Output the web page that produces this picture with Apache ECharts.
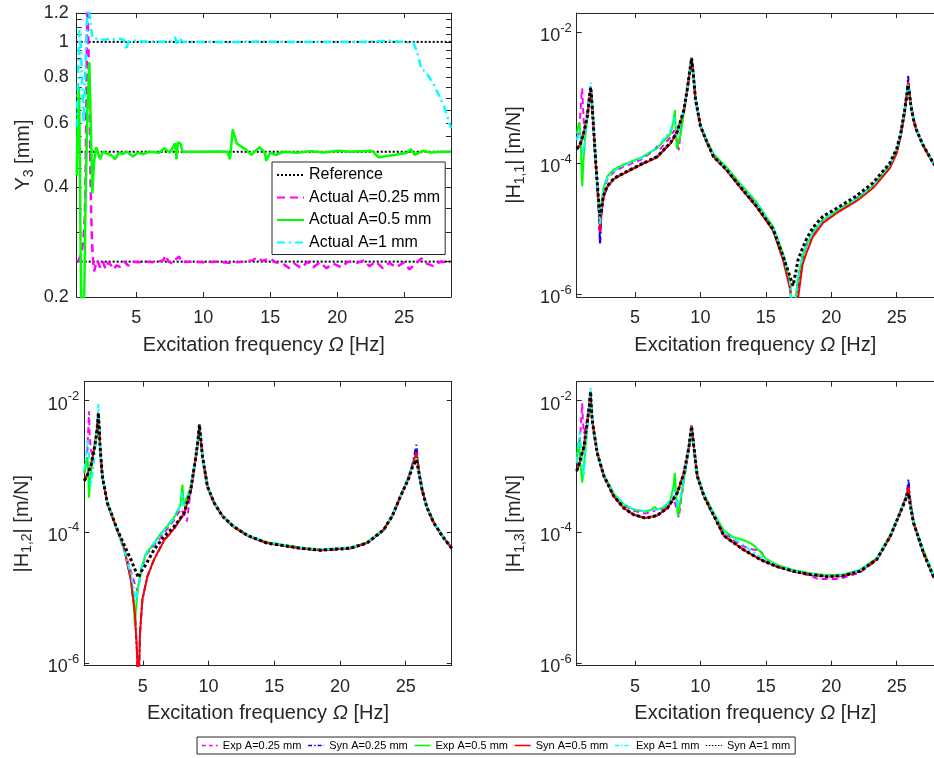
<!DOCTYPE html>
<html><head><meta charset="utf-8">
<script src="https://cdn.jsdelivr.net/npm/echarts@6/dist/echarts.min.js"></script>
<style>html,body{margin:0;padding:0;background:#fff}#c{width:934px;height:758px}</style>
</head><body><div id="c"></div>
<script>
// ---------------- data ----------------
const XMIN = 0.55, XMAX = 28.5, XMAX_RIGHT_PANELS = 27.85; // right-hand panels are cropped by the figure edge
const X_TICKS = [5, 10, 15, 20, 25];
const Y3_LABELS = [0.2, 0.4, 0.6, 0.8, 1, 1.2];
const Y3_TICKS = [0.2, 0.25, 0.3, 0.35, 0.4, 0.45, 0.5, 0.55, 0.6, 0.65, 0.7, 0.75, 0.8, 0.85, 0.9, 0.95, 1, 1.05, 1.1, 1.15, 1.2];
const H_MIN = 9.1e-7, H_MAX = 0.0195;
const H_TICKS = [1e-6, 1e-4, 1e-2];

const REF_LEVELS = [0.25, 0.5, 1];
// Y3 [mm] : [frequency Hz, amplitude mm]
const Y3_ACT_025 = [[0.55,0.25],[0.7,0.252],[0.82,0.26],[0.95,0.27],[1.05,0.285],[1.15,0.33],[1.22,0.45],[1.28,0.75],[1.34,1.3],[1.43,1.3],[1.5,0.75],[1.57,0.45],[1.63,0.34],[1.7,0.28],[1.78,0.25],[1.85,0.235],[1.95,0.243],[2.1,0.252],[2.3,0.241],[2.5,0.25],[2.7,0.239],[2.9,0.249],[3.1,0.245],[3.3,0.238],[3.5,0.244],[3.8,0.242],[4.1,0.25],[4.4,0.244],[4.7,0.25],[5.2,0.249],[5.8,0.25],[6.4,0.249],[7.0,0.252],[7.2,0.26],[7.4,0.25],[7.7,0.247],[8.0,0.255],[8.2,0.258],[8.4,0.249],[9.0,0.25],[10,0.249],[11,0.25],[12,0.248],[13,0.25],[13.7,0.252],[14.0,0.257],[14.4,0.251],[15.0,0.255],[15.4,0.249],[16.0,0.246],[16.4,0.24],[16.8,0.247],[17.3,0.24],[17.8,0.25],[18.2,0.241],[18.7,0.249],[19.2,0.24],[19.7,0.247],[20.3,0.241],[20.8,0.25],[21.5,0.248],[22.0,0.252],[22.4,0.243],[22.9,0.25],[23.4,0.24],[23.9,0.248],[24.4,0.241],[25.0,0.249],[25.4,0.238],[25.9,0.248],[26.3,0.255],[26.7,0.247],[27.2,0.243],[27.7,0.25],[28.2,0.249],[28.5,0.25]];
const Y3_ACT_05 = [[0.55,0.43],[0.62,0.62],[0.72,0.75],[0.78,0.5],[0.85,0.25],[0.9,0.18],[1.05,0.18],[1.12,0.21],[1.2,0.35],[1.35,0.65],[1.49,0.88],[1.6,0.6],[1.72,0.385],[1.85,0.47],[2.0,0.515],[2.1,0.51],[2.3,0.477],[2.5,0.5],[2.8,0.495],[3.1,0.49],[3.4,0.477],[3.7,0.497],[4.0,0.493],[4.3,0.5],[4.75,0.485],[5.1,0.497],[5.5,0.493],[6.0,0.5],[6.7,0.497],[7.1,0.511],[7.5,0.497],[7.9,0.527],[8.0,0.477],[8.1,0.53],[8.3,0.527],[8.45,0.5],[9,0.5],[10,0.5],[11,0.501],[11.8,0.5],[12.0,0.477],[12.2,0.576],[12.5,0.527],[13.2,0.506],[13.6,0.49],[14.2,0.515],[14.6,0.497],[14.7,0.472],[15.0,0.497],[15.4,0.49],[16,0.5],[17,0.497],[18,0.502],[19,0.498],[20.1,0.503],[21,0.5],[22.6,0.503],[23.1,0.483],[23.7,0.487],[24.3,0.49],[25.2,0.497],[25.5,0.508],[25.8,0.49],[26.4,0.503],[27,0.498],[27.8,0.5],[28.5,0.5]];
const Y3_ACT_1 = [[0.55,0.585],[0.65,0.8],[0.75,1.08],[0.87,0.95],[0.97,0.75],[1.07,0.6],[1.2,0.85],[1.3,1.1],[1.37,1.3],[1.5,1.3],[1.6,1.12],[1.69,1.04],[1.8,1.02],[2.2,1.022],[2.6,1.012],[3.0,1.02],[3.4,1.015],[3.8,1.02],[4.1,1.01],[4.25,0.95],[4.4,1.0],[4.6,1.01],[5.5,1.003],[6.5,1.0],[7.5,1.002],[7.9,1.03],[8.05,0.98],[8.2,1.025],[8.5,1.0],[10,1.0],[12,0.998],[14,1.002],[16,1.0],[18,1.0],[20,0.999],[22,1.0],[24,1.008],[24.5,1.003],[25.0,1.0],[25.7,0.995],[26.0,0.93],[26.3,0.84],[26.6,0.83],[27.3,0.754],[28.0,0.664],[28.5,0.58]];

// FRF magnitudes: [frequency Hz, log10 |H| in m/N]
const H11_EXP_025 = [[0.55,-3.62],[0.7,-3.55],[0.85,-3.2],[0.92,-2.95],[0.97,-2.86],[1.02,-3.1],[1.1,-3.4],[1.2,-3.45],[1.36,-3.2],[1.5,-3.0],[1.62,-2.83],[1.7,-3.0],[1.8,-3.3],[1.95,-3.85],[2.1,-4.3],[2.25,-4.85],[2.33,-5.24],[2.45,-4.7],[2.6,-4.42],[2.9,-4.24],[3.4,-4.13],[4.16,-4.05],[5.43,-3.95],[6.5,-3.8],[6.7,-3.74],[6.9,-3.79],[7.72,-3.6],[8.0,-3.5],[8.2,-3.65],[8.35,-3.8],[8.5,-3.5],[8.8,-3.15],[9.05,-2.82],[9.2,-2.57],[9.33,-2.4],[9.45,-2.62],[9.63,-3.02],[10.01,-3.43],[10.52,-3.68],[11.0,-3.89],[12.0,-4.09],[13.0,-4.33],[14.3,-4.63],[15.56,-4.99],[16.32,-5.41],[16.83,-5.82],[17.1,-6.5],[17.2,-6.3],[17.45,-5.8],[17.8,-5.43],[18.1,-5.27],[18.6,-5.07],[19.37,-4.88],[20.65,-4.71],[21.92,-4.56],[23.19,-4.36],[24.47,-4.05],[25.0,-3.82],[25.3,-3.58],[25.6,-3.22],[25.8,-2.9],[25.87,-2.74],[25.95,-2.88],[26.1,-3.12],[26.3,-3.33],[26.5,-3.48],[27.0,-3.72],[27.8,-4.0],[28.5,-4.15]];
const H11_SYN_025 = [[0.55,-3.79],[0.8,-3.73],[1.05,-3.58],[1.36,-3.3],[1.49,-3.07],[1.56,-2.94],[1.62,-2.84],[1.68,-2.98],[1.75,-3.2],[1.88,-3.6],[2.01,-4.02],[2.14,-4.38],[2.26,-4.75],[2.33,-5.24],[2.43,-4.8],[2.59,-4.52],[2.89,-4.36],[3.4,-4.24],[4.16,-4.15],[5.43,-4.02],[6.7,-3.9],[7.72,-3.69],[8.23,-3.52],[8.74,-3.19],[8.99,-2.88],[9.2,-2.58],[9.33,-2.4],[9.45,-2.63],[9.63,-3.03],[10.01,-3.44],[10.52,-3.69],[11.0,-3.9],[12.0,-4.1],[13.0,-4.35],[14.3,-4.66],[15.56,-5.02],[16.32,-5.45],[16.83,-5.85],[17.08,-6.3],[17.3,-6.4],[17.47,-5.8],[17.8,-5.45],[18.1,-5.25],[18.6,-5.05],[19.37,-4.86],[20.65,-4.7],[21.92,-4.54],[23.19,-4.34],[24.47,-4.03],[25.0,-3.8],[25.3,-3.56],[25.6,-3.2],[25.8,-2.88],[25.87,-2.67],[25.95,-2.85],[26.1,-3.12],[26.3,-3.34],[26.5,-3.49],[27.0,-3.72],[27.8,-4.0],[28.5,-4.15]];
const H11_EXP_05 = [[0.55,-3.55],[0.65,-3.45],[0.75,-3.38],[0.85,-3.6],[0.92,-4.1],[0.98,-4.35],[1.05,-4.0],[1.2,-3.6],[1.36,-3.3],[1.5,-3.05],[1.62,-2.85],[1.7,-3.02],[1.8,-3.32],[1.95,-3.82],[2.1,-4.25],[2.25,-4.68],[2.33,-4.9],[2.45,-4.62],[2.6,-4.38],[2.9,-4.2],[3.4,-4.1],[4.16,-4.02],[5.43,-3.92],[6.7,-3.77],[7.72,-3.55],[7.95,-3.35],[8.05,-3.19],[8.12,-3.5],[8.2,-3.78],[8.5,-3.55],[8.8,-3.15],[9.05,-2.8],[9.2,-2.57],[9.33,-2.41],[9.45,-2.62],[9.63,-3.01],[10.01,-3.42],[10.52,-3.66],[11.0,-3.86],[12.0,-4.06],[13.0,-4.3],[14.3,-4.6],[15.56,-4.97],[16.32,-5.38],[16.83,-5.78],[17.1,-6.4],[17.2,-6.2],[17.45,-5.78],[17.8,-5.42],[18.1,-5.27],[18.6,-5.06],[19.37,-4.87],[20.65,-4.7],[21.92,-4.55],[23.19,-4.35],[24.47,-4.04],[25.0,-3.81],[25.3,-3.58],[25.6,-3.23],[25.8,-2.93],[25.87,-2.8],[25.95,-2.9],[26.1,-3.13],[26.3,-3.34],[26.5,-3.48],[27.0,-3.72],[27.8,-4.0],[28.5,-4.15]];
const H11_SYN_05 = [[0.55,-3.78],[0.8,-3.72],[1.05,-3.57],[1.36,-3.29],[1.49,-3.06],[1.56,-2.93],[1.62,-2.84],[1.68,-2.98],[1.75,-3.19],[1.88,-3.6],[2.01,-4.01],[2.14,-4.37],[2.26,-4.7],[2.33,-5.04],[2.43,-4.78],[2.59,-4.52],[2.89,-4.36],[3.4,-4.24],[4.16,-4.16],[5.43,-4.03],[6.7,-3.91],[7.72,-3.7],[8.23,-3.53],[8.74,-3.2],[8.99,-2.88],[9.2,-2.58],[9.33,-2.39],[9.45,-2.62],[9.63,-3.02],[10.01,-3.44],[10.52,-3.69],[11.0,-3.9],[12.0,-4.11],[13.0,-4.36],[14.3,-4.67],[15.56,-5.03],[16.32,-5.48],[16.83,-5.9],[17.08,-6.2],[17.3,-6.6],[17.47,-6.05],[17.8,-5.55],[18.1,-5.37],[18.6,-5.12],[19.37,-4.91],[20.65,-4.73],[21.92,-4.58],[23.19,-4.38],[24.47,-4.08],[25.0,-3.85],[25.3,-3.6],[25.6,-3.25],[25.8,-2.92],[25.87,-2.76],[25.95,-2.88],[26.1,-3.14],[26.3,-3.35],[26.5,-3.5],[27.0,-3.73],[27.8,-4.01],[28.5,-4.16]];
const H11_EXP_1 = [[0.55,-3.65],[0.7,-3.55],[0.82,-3.5],[0.95,-3.75],[1.05,-3.87],[1.2,-3.65],[1.36,-3.25],[1.5,-3.0],[1.62,-2.77],[1.7,-3.0],[1.8,-3.3],[1.95,-3.8],[2.1,-4.25],[2.25,-4.7],[2.33,-4.95],[2.45,-4.6],[2.6,-4.38],[2.9,-4.22],[3.4,-4.12],[4.16,-4.03],[5.43,-3.93],[6.7,-3.76],[7.72,-3.5],[8.0,-3.3],[8.1,-3.45],[8.25,-3.6],[8.5,-3.38],[8.8,-3.12],[9.05,-2.8],[9.2,-2.56],[9.33,-2.4],[9.45,-2.62],[9.63,-3.01],[10.01,-3.42],[10.52,-3.67],[11.0,-3.88],[12.0,-4.08],[13.0,-4.32],[14.3,-4.62],[15.56,-4.98],[16.32,-5.4],[16.83,-5.8],[17.1,-6.4],[17.2,-6.2],[17.45,-5.75],[17.8,-5.4],[18.1,-5.25],[18.6,-5.05],[19.37,-4.86],[20.65,-4.69],[21.92,-4.54],[23.19,-4.34],[24.47,-4.03],[25.0,-3.8],[25.3,-3.57],[25.6,-3.22],[25.8,-2.92],[25.87,-2.8],[25.95,-2.9],[26.1,-3.13],[26.3,-3.34],[26.5,-3.48],[27.0,-3.72],[27.8,-4.0],[28.5,-4.15]];
const H11_SYN_1 = [[0.55,-3.78],[0.8,-3.72],[1.05,-3.57],[1.36,-3.29],[1.49,-3.06],[1.56,-2.93],[1.62,-2.84],[1.68,-2.98],[1.75,-3.19],[1.88,-3.59],[2.01,-4.0],[2.14,-4.35],[2.26,-4.66],[2.33,-4.81],[2.43,-4.71],[2.59,-4.5],[2.89,-4.35],[3.4,-4.23],[4.16,-4.15],[5.43,-4.02],[6.7,-3.9],[7.72,-3.69],[8.23,-3.52],[8.74,-3.19],[8.99,-2.88],[9.2,-2.58],[9.33,-2.4],[9.45,-2.63],[9.63,-3.03],[10.01,-3.44],[10.52,-3.69],[11.0,-3.9],[12.0,-4.1],[13.0,-4.35],[14.3,-4.66],[15.56,-5.01],[16.32,-5.42],[16.83,-5.72],[17.08,-5.87],[17.3,-5.65],[17.47,-5.47],[17.8,-5.3],[18.1,-5.16],[18.6,-4.98],[19.37,-4.81],[20.65,-4.66],[21.92,-4.5],[23.19,-4.3],[24.47,-4.0],[25.0,-3.78],[25.3,-3.55],[25.6,-3.2],[25.8,-2.92],[25.87,-2.81],[25.95,-2.92],[26.1,-3.15],[26.3,-3.35],[26.5,-3.49],[27.0,-3.72],[27.8,-4.0],[28.5,-4.15]];

const H12_EXP_025 = [[0.55,-3.1],[0.75,-2.9],[0.85,-2.45],[0.91,-2.16],[0.95,-2.5],[1.05,-2.75],[1.2,-2.85],[1.4,-2.65],[1.55,-2.35],[1.62,-2.2],[1.68,-2.42],[1.75,-2.7],[1.92,-3.14],[2.3,-3.56],[2.68,-3.77],[3.07,-3.98],[3.58,-4.27],[4.09,-4.6],[4.4,-4.8],[4.6,-4.9],[4.75,-4.75],[4.9,-4.58],[5.23,-4.36],[5.86,-4.2],[6.62,-4.02],[7.38,-3.82],[7.9,-3.65],[8.2,-3.75],[8.36,-3.84],[8.5,-3.6],[8.75,-3.25],[9.04,-2.84],[9.2,-2.59],[9.31,-2.37],[9.42,-2.6],[9.54,-2.85],[9.92,-3.31],[10.43,-3.56],[11.06,-3.76],[11.9,-3.92],[13.0,-4.06],[14.44,-4.17],[16.98,-4.25],[18.5,-4.28],[20.79,-4.25],[22.06,-4.17],[23.32,-3.97],[24.0,-3.75],[24.6,-3.46],[25.2,-3.17],[25.5,-2.98],[25.82,-2.8],[25.9,-2.93],[26.05,-3.13],[26.25,-3.35],[26.6,-3.61],[27.13,-3.85],[27.8,-4.06],[28.5,-4.24]];
const H12_SYN_025 = [[0.55,-3.22],[0.8,-3.12],[1.04,-3.0],[1.29,-2.75],[1.5,-2.49],[1.58,-2.3],[1.62,-2.19],[1.68,-2.4],[1.75,-2.7],[1.92,-3.15],[2.3,-3.56],[2.68,-3.77],[3.07,-3.98],[3.58,-4.25],[4.09,-4.73],[4.4,-5.25],[4.55,-5.8],[4.67,-6.5],[4.79,-5.54],[4.97,-5.03],[5.35,-4.68],[5.86,-4.42],[6.62,-4.13],[7.38,-3.95],[8.15,-3.72],[8.65,-3.36],[9.04,-2.85],[9.2,-2.6],[9.31,-2.36],[9.42,-2.6],[9.54,-2.85],[9.92,-3.31],[10.43,-3.56],[11.06,-3.76],[11.9,-3.92],[13.0,-4.06],[14.44,-4.17],[16.98,-4.25],[18.5,-4.28],[20.79,-4.25],[22.06,-4.17],[23.32,-3.97],[24.0,-3.75],[24.6,-3.46],[25.2,-3.18],[25.5,-2.98],[25.82,-2.67],[25.9,-2.88],[26.05,-3.12],[26.25,-3.36],[26.6,-3.62],[27.13,-3.86],[27.8,-4.07],[28.5,-4.25]];
const H12_EXP_05 = [[0.55,-3.1],[0.7,-2.95],[0.79,-2.86],[0.85,-3.1],[0.91,-3.48],[1.0,-3.2],[1.17,-2.91],[1.35,-2.7],[1.5,-2.45],[1.62,-2.2],[1.68,-2.42],[1.75,-2.7],[1.92,-3.14],[2.3,-3.55],[2.68,-3.76],[3.07,-3.98],[3.58,-4.28],[4.0,-4.6],[4.3,-5.0],[4.4,-5.44],[4.47,-5.2],[4.6,-4.9],[4.9,-4.55],[5.23,-4.33],[5.86,-4.17],[6.4,-4.02],[6.62,-3.97],[7.38,-3.78],[7.85,-3.6],[8.02,-3.28],[8.1,-3.6],[8.25,-3.62],[8.65,-3.32],[9.04,-2.84],[9.2,-2.59],[9.31,-2.38],[9.42,-2.6],[9.54,-2.84],[9.92,-3.3],[10.43,-3.55],[11.06,-3.75],[11.9,-3.91],[13.0,-4.05],[14.44,-4.16],[16.98,-4.24],[18.5,-4.27],[20.79,-4.24],[22.06,-4.16],[23.32,-3.96],[24.0,-3.74],[24.6,-3.45],[25.2,-3.18],[25.5,-3.0],[25.82,-2.86],[25.9,-2.95],[26.05,-3.13],[26.25,-3.35],[26.6,-3.61],[27.13,-3.85],[27.8,-4.06],[28.5,-4.24]];
const H12_SYN_05 = [[0.55,-3.22],[0.8,-3.12],[1.04,-3.0],[1.29,-2.75],[1.5,-2.49],[1.58,-2.3],[1.62,-2.19],[1.68,-2.4],[1.75,-2.7],[1.92,-3.15],[2.3,-3.56],[2.68,-3.77],[3.07,-3.98],[3.58,-4.25],[4.09,-4.73],[4.4,-5.25],[4.55,-5.8],[4.67,-6.5],[4.79,-5.54],[4.97,-5.03],[5.35,-4.68],[5.86,-4.42],[6.62,-4.13],[7.38,-3.95],[8.15,-3.72],[8.65,-3.36],[9.04,-2.85],[9.2,-2.6],[9.31,-2.36],[9.42,-2.6],[9.54,-2.85],[9.92,-3.31],[10.43,-3.56],[11.06,-3.76],[11.9,-3.92],[13.0,-4.06],[14.44,-4.17],[16.98,-4.25],[18.5,-4.28],[20.79,-4.25],[22.06,-4.17],[23.32,-3.97],[24.0,-3.75],[24.6,-3.46],[25.2,-3.19],[25.5,-3.0],[25.82,-2.78],[25.9,-2.92],[26.05,-3.13],[26.25,-3.36],[26.6,-3.62],[27.13,-3.86],[27.8,-4.07],[28.5,-4.25]];
const H12_EXP_1 = [[0.55,-3.05],[0.7,-2.8],[0.8,-2.6],[0.9,-2.75],[1.04,-3.3],[1.15,-3.15],[1.29,-2.92],[1.45,-2.6],[1.55,-2.3],[1.62,-2.05],[1.68,-2.35],[1.75,-2.68],[1.92,-3.12],[2.3,-3.55],[2.68,-3.76],[3.07,-3.98],[3.58,-4.28],[4.09,-4.65],[4.3,-4.85],[4.5,-5.06],[4.67,-4.85],[4.9,-4.55],[5.23,-4.35],[5.86,-4.18],[6.62,-3.98],[7.38,-3.8],[7.9,-3.58],[8.0,-3.4],[8.1,-3.6],[8.3,-3.55],[8.65,-3.3],[9.04,-2.83],[9.2,-2.58],[9.31,-2.37],[9.42,-2.6],[9.54,-2.84],[9.92,-3.3],[10.43,-3.55],[11.06,-3.75],[11.9,-3.91],[13.0,-4.05],[14.44,-4.16],[16.98,-4.24],[18.5,-4.27],[20.79,-4.24],[22.06,-4.16],[23.32,-3.96],[24.0,-3.74],[24.6,-3.45],[25.2,-3.18],[25.5,-3.0],[25.82,-2.88],[25.9,-2.96],[26.05,-3.13],[26.25,-3.35],[26.6,-3.61],[27.13,-3.85],[27.8,-4.06],[28.5,-4.24]];
const H12_SYN_1 = [[0.55,-3.22],[0.8,-3.12],[1.04,-3.0],[1.29,-2.75],[1.5,-2.49],[1.58,-2.3],[1.62,-2.19],[1.68,-2.4],[1.75,-2.7],[1.92,-3.15],[2.3,-3.56],[2.68,-3.76],[3.07,-3.97],[3.58,-4.2],[4.09,-4.42],[4.4,-4.57],[4.67,-4.7],[4.9,-4.6],[5.23,-4.5],[5.86,-4.27],[6.62,-4.07],[7.38,-3.92],[8.15,-3.71],[8.65,-3.36],[9.04,-2.85],[9.2,-2.6],[9.31,-2.37],[9.42,-2.6],[9.54,-2.85],[9.92,-3.31],[10.43,-3.56],[11.06,-3.76],[11.9,-3.92],[13.0,-4.06],[14.44,-4.17],[16.98,-4.25],[18.5,-4.28],[20.79,-4.25],[22.06,-4.17],[23.32,-3.97],[24.0,-3.75],[24.6,-3.46],[25.2,-3.2],[25.5,-3.02],[25.82,-2.9],[25.9,-2.98],[26.05,-3.15],[26.25,-3.36],[26.6,-3.62],[27.13,-3.86],[27.8,-4.07],[28.5,-4.25]];

const H13_EXP_025 = [[0.55,-2.95],[0.7,-2.75],[0.85,-2.45],[0.92,-2.2],[0.97,-2.04],[1.02,-2.3],[1.1,-2.5],[1.25,-2.4],[1.4,-2.2],[1.5,-2.05],[1.61,-1.9],[1.67,-2.1],[1.74,-2.29],[1.87,-2.49],[2.12,-2.8],[2.63,-3.14],[3.39,-3.43],[4.16,-3.6],[4.92,-3.68],[5.82,-3.72],[6.5,-3.68],[6.75,-3.63],[7.0,-3.66],[7.6,-3.6],[7.95,-3.5],[8.2,-3.65],[8.35,-3.78],[8.5,-3.55],[8.8,-3.14],[9.13,-2.72],[9.25,-2.52],[9.33,-2.41],[9.42,-2.56],[9.51,-2.73],[9.76,-3.13],[10.28,-3.44],[11.04,-3.73],[11.8,-4.0],[12.5,-4.12],[13.28,-4.22],[14.0,-4.27],[14.56,-4.28],[15.0,-4.42],[15.83,-4.52],[17.1,-4.6],[18.38,-4.67],[19.0,-4.72],[19.66,-4.72],[20.3,-4.72],[20.93,-4.7],[22.2,-4.62],[23.48,-4.43],[24.5,-4.07],[25.26,-3.7],[25.6,-3.52],[25.8,-3.38],[25.9,-3.3],[26.0,-3.52],[26.28,-3.85],[26.6,-4.04],[27.04,-4.3],[27.8,-4.67],[28.5,-4.85]];
const H13_SYN_025 = [[0.55,-3.08],[0.8,-2.93],[1.1,-2.7],[1.35,-2.34],[1.5,-2.1],[1.56,-1.97],[1.61,-1.86],[1.67,-2.12],[1.74,-2.3],[1.87,-2.48],[2.12,-2.8],[2.63,-3.15],[3.39,-3.46],[4.16,-3.64],[4.92,-3.74],[5.82,-3.79],[6.7,-3.75],[7.47,-3.64],[8.23,-3.41],[8.75,-3.1],[9.13,-2.7],[9.25,-2.5],[9.33,-2.38],[9.42,-2.55],[9.51,-2.72],[9.76,-3.15],[10.28,-3.46],[11.04,-3.76],[11.8,-4.06],[13.28,-4.27],[14.56,-4.42],[15.83,-4.53],[17.1,-4.6],[18.38,-4.65],[19.66,-4.68],[20.93,-4.67],[22.2,-4.6],[23.48,-4.42],[24.5,-4.07],[25.26,-3.71],[25.6,-3.52],[25.8,-3.38],[25.9,-3.2],[26.0,-3.45],[26.28,-3.85],[26.6,-4.05],[27.04,-4.32],[27.8,-4.68],[28.5,-4.85]];
const H13_EXP_05 = [[0.55,-2.9],[0.65,-2.7],[0.72,-2.62],[0.85,-3.0],[0.97,-3.25],[1.1,-3.0],[1.25,-2.65],[1.4,-2.3],[1.5,-2.07],[1.61,-1.88],[1.67,-2.1],[1.74,-2.29],[1.87,-2.48],[2.12,-2.79],[2.63,-3.13],[3.39,-3.42],[4.16,-3.58],[4.92,-3.66],[5.82,-3.69],[6.3,-3.66],[6.5,-3.62],[6.7,-3.66],[7.2,-3.63],[7.7,-3.52],[7.95,-3.3],[8.05,-3.1],[8.15,-3.45],[8.29,-3.76],[8.5,-3.5],[8.8,-3.12],[9.13,-2.72],[9.25,-2.52],[9.33,-2.42],[9.42,-2.56],[9.51,-2.72],[9.76,-3.12],[10.28,-3.43],[11.04,-3.72],[11.8,-3.98],[12.5,-4.08],[13.0,-4.11],[13.5,-4.14],[14.05,-4.2],[14.56,-4.3],[15.0,-4.41],[15.83,-4.5],[17.1,-4.58],[18.38,-4.63],[19.66,-4.66],[20.93,-4.65],[22.2,-4.58],[23.48,-4.4],[24.5,-4.05],[25.26,-3.7],[25.6,-3.52],[25.8,-3.42],[25.9,-3.38],[26.0,-3.52],[26.28,-3.84],[26.6,-4.03],[27.04,-4.28],[27.8,-4.65],[28.5,-4.84]];
const H13_SYN_05 = [[0.55,-3.07],[0.8,-2.92],[1.1,-2.7],[1.35,-2.34],[1.5,-2.1],[1.56,-1.97],[1.61,-1.86],[1.67,-2.12],[1.74,-2.3],[1.87,-2.48],[2.12,-2.8],[2.63,-3.15],[3.39,-3.46],[4.16,-3.64],[4.92,-3.74],[5.82,-3.79],[6.7,-3.75],[7.47,-3.64],[8.23,-3.41],[8.75,-3.1],[9.13,-2.7],[9.25,-2.5],[9.33,-2.38],[9.42,-2.55],[9.51,-2.72],[9.76,-3.15],[10.28,-3.46],[11.04,-3.76],[11.8,-4.06],[13.28,-4.27],[14.56,-4.42],[15.83,-4.53],[17.1,-4.6],[18.38,-4.65],[19.66,-4.68],[20.93,-4.67],[22.2,-4.6],[23.48,-4.42],[24.5,-4.07],[25.26,-3.71],[25.6,-3.53],[25.8,-3.42],[25.9,-3.31],[26.0,-3.5],[26.28,-3.86],[26.6,-4.05],[27.04,-4.32],[27.8,-4.68],[28.5,-4.85]];
const H13_EXP_1 = [[0.55,-2.95],[0.65,-2.7],[0.79,-2.47],[0.9,-2.75],[1.0,-3.0],[1.1,-3.15],[1.25,-2.7],[1.4,-2.3],[1.5,-2.05],[1.61,-1.8],[1.67,-2.08],[1.74,-2.28],[1.87,-2.47],[2.12,-2.78],[2.63,-3.13],[3.39,-3.42],[4.16,-3.58],[4.92,-3.66],[5.82,-3.69],[6.4,-3.67],[6.7,-3.66],[7.2,-3.62],[7.6,-3.55],[7.9,-3.45],[8.0,-3.35],[8.15,-3.5],[8.3,-3.6],[8.6,-3.35],[8.85,-3.05],[9.13,-2.7],[9.25,-2.5],[9.33,-2.4],[9.42,-2.55],[9.51,-2.72],[9.76,-3.13],[10.28,-3.44],[11.04,-3.73],[11.8,-4.0],[12.5,-4.1],[13.28,-4.2],[14.56,-4.38],[15.83,-4.51],[17.1,-4.59],[18.38,-4.64],[19.66,-4.67],[20.93,-4.66],[22.2,-4.59],[23.48,-4.41],[24.5,-4.06],[25.26,-3.7],[25.6,-3.53],[25.8,-3.43],[25.9,-3.4],[26.0,-3.55],[26.28,-3.85],[26.6,-4.04],[27.04,-4.3],[27.8,-4.66],[28.5,-4.84]];
const H13_SYN_1 = [[0.55,-3.07],[0.8,-2.92],[1.1,-2.7],[1.35,-2.34],[1.5,-2.1],[1.56,-1.97],[1.61,-1.86],[1.67,-2.12],[1.74,-2.3],[1.87,-2.48],[2.12,-2.8],[2.63,-3.15],[3.39,-3.46],[4.16,-3.64],[4.92,-3.74],[5.82,-3.79],[6.7,-3.75],[7.47,-3.64],[8.23,-3.41],[8.75,-3.1],[9.13,-2.7],[9.25,-2.5],[9.33,-2.39],[9.42,-2.55],[9.51,-2.72],[9.76,-3.15],[10.28,-3.46],[11.04,-3.76],[11.8,-4.06],[13.28,-4.27],[14.56,-4.42],[15.83,-4.53],[17.1,-4.6],[18.38,-4.65],[19.66,-4.68],[20.93,-4.67],[22.2,-4.6],[23.48,-4.42],[24.5,-4.07],[25.26,-3.71],[25.6,-3.55],[25.8,-3.45],[25.9,-3.41],[26.0,-3.55],[26.28,-3.86],[26.6,-4.05],[27.04,-4.32],[27.8,-4.68],[28.5,-4.85]];

const FRF_NAMES = ['Exp A=0.25 mm', 'Syn A=0.25 mm', 'Exp A=0.5 mm', 'Syn A=0.5 mm', 'Exp A=1 mm', 'Syn A=1 mm'];
const Y3_NAMES = ['Reference', 'Actual A=0.25 mm', 'Actual A=0.5 mm', 'Actual A=1 mm'];

// ---------------- style / layout ----------------
const FONT = "'Liberation Sans', Arial, Helvetica, sans-serif";
const AX = '#262626';
const FRF_STYLE = [
  {color: '#ff00ff', type: [6, 4], width: 2},
  {color: '#0000ff', type: [6, 3, 2, 3], width: 2},
  {color: '#00ff00', type: 'solid', width: 2},
  {color: '#ff0000', type: 'solid', width: 2},
  {color: '#00ffff', type: [6, 3, 2, 3], width: 2},
  {color: '#000000', type: [3, 2.5], width: 3}
];
const LEGEND_LINE = [
  {color: '#ff00ff', type: [4, 3], width: 1.6},
  {color: '#0000ff', type: [4, 2, 1.5, 2], width: 1.6},
  {color: '#00ff00', type: 'solid', width: 1.6},
  {color: '#ff0000', type: 'solid', width: 1.6},
  {color: '#00ffff', type: [4, 2, 1.5, 2], width: 1.6},
  {color: '#000000', type: [1.5, 1.5], width: 1.2}
];
const GRIDS = [
  {left: 76.7, top: 13, width: 374.3, height: 284, xmax: XMAX, box: true},
  {left: 576.7, top: 13, width: 357.3, height: 284, xmax: XMAX_RIGHT_PANELS, box: false},
  {left: 84.3, top: 381.7, width: 367.4, height: 284, xmax: XMAX, box: true},
  {left: 576.7, top: 381.7, width: 357.3, height: 284, xmax: XMAX_RIGHT_PANELS, box: false}
];
const X_NAME = 'Excitation frequency {it|Ω} [Hz]';
const nameStyle = {fontSize: 20, fontFamily: FONT, color: AX,
  rich: {it: {fontSize: 20, fontFamily: FONT, color: AX, fontStyle: 'italic'},
         s: {fontSize: 14, fontFamily: FONT, color: AX, padding: [10, 0, 0, 0]}}};

function makeX(gi, top, xmax) {
  return {
    gridIndex: gi, type: 'value', min: XMIN, max: xmax, position: top ? 'top' : 'bottom',
    axisLine: {show: true, onZero: false, lineStyle: {color: AX, width: 1}},
    axisTick: {show: true, inside: true, length: 5, customValues: X_TICKS, lineStyle: {color: AX, width: 1}},
    axisLabel: {show: !top, customValues: X_TICKS, fontSize: 18, fontFamily: FONT, color: AX, margin: 12},
    splitLine: {show: false}, minorTick: {show: false},
    name: top ? '' : X_NAME, nameLocation: 'middle', nameGap: 38, nameMoveOverlap: false,
    nameTextStyle: nameStyle
  };
}
function makeYH(gi, right, name, gap, visible) {
  return {
    gridIndex: gi, type: 'log', logBase: 10, min: H_MIN, max: H_MAX, position: right ? 'right' : 'left',
    show: visible,
    axisLine: {show: true, onZero: false, lineStyle: {color: AX, width: 1}},
    axisTick: {show: true, inside: true, length: 5, customValues: H_TICKS, lineStyle: {color: AX, width: 1}},
    axisLabel: {show: !right, customValues: H_TICKS, margin: 5,
      formatter: v => '{b|10}{s|' + Math.round(Math.log10(v)) + '}',
      rich: {b: {fontSize: 18, fontFamily: FONT, color: AX, padding: [8, 0, 0, 0]},
             s: {fontSize: 13, fontFamily: FONT, color: AX, padding: [0, 0, 8, 0]}}},
    splitLine: {show: false}, minorTick: {show: false},
    name: right ? '' : name, nameLocation: 'middle', nameRotate: 90, nameGap: gap, nameMoveOverlap: false,
    nameTextStyle: nameStyle
  };
}
function makeY3(gi, right) {
  return {
    gridIndex: gi, type: 'log', logBase: 10, min: 0.2, max: 1.2, position: right ? 'right' : 'left',
    axisLine: {show: true, onZero: false, lineStyle: {color: AX, width: 1}},
    axisTick: {show: true, inside: true, length: 5, customValues: Y3_TICKS, lineStyle: {color: AX, width: 1}},
    axisLabel: {show: !right, customValues: Y3_LABELS, margin: 8, fontSize: 18, fontFamily: FONT, color: AX,
      padding: [3, 0, 0, 0], formatter: v => String(+(+v).toFixed(2))},
    splitLine: {show: false}, minorTick: {show: false},
    name: right ? '' : 'Y{s|3} [mm]', nameLocation: 'middle', nameRotate: 90, nameGap: 41, nameMoveOverlap: false,
    nameTextStyle: nameStyle
  };
}

const xAxis = [], yAxis = [], grid = [];
GRIDS.forEach((g, i) => {
  grid.push({left: g.left, top: g.top, width: g.width, height: g.height, containLabel: false, outerBoundsMode: 'none'});
  xAxis.push(makeX(i, false, g.xmax), makeX(i, true, g.xmax));
});
yAxis.push(makeY3(0, false), makeY3(0, true));
yAxis.push(makeYH(1, false, '|H{s|1,1}| [m/N]', 50, true), makeYH(1, true, '', 0, GRIDS[1].box));
yAxis.push(makeYH(2, false, '|H{s|1,2}| [m/N]', 50, true), makeYH(2, true, '', 0, GRIDS[2].box));
yAxis.push(makeYH(3, false, '|H{s|1,3}| [m/N]', 50, true), makeYH(3, true, '', 0, GRIDS[3].box));

const series = [];
REF_LEVELS.forEach(lv => series.push({
  name: 'Reference', type: 'line', xAxisIndex: 0, yAxisIndex: 0, symbol: 'none', silent: true,
  lineStyle: {color: '#000', type: [2, 2], width: 2}, itemStyle: {color: '#000'},
  data: [[XMIN, lv], [XMAX, lv]]
}));
[[Y3_ACT_025, {color: '#ff00ff', type: [8, 5], width: 2.5}],
 [Y3_ACT_05, {color: '#00ff00', type: 'solid', width: 2.5}],
 [Y3_ACT_1, {color: '#00ffff', type: [8, 4, 2, 4], width: 2.5}]].forEach((p, k) => series.push({
  name: Y3_NAMES[k + 1], type: 'line', xAxisIndex: 0, yAxisIndex: 0, symbol: 'none', silent: true,
  lineStyle: p[1], itemStyle: {color: p[1].color}, data: p[0]
}));
const FRF_SETS = [
  [H11_EXP_025, H11_SYN_025, H11_EXP_05, H11_SYN_05, H11_EXP_1, H11_SYN_1],
  [H12_EXP_025, H12_SYN_025, H12_EXP_05, H12_SYN_05, H12_EXP_1, H12_SYN_1],
  [H13_EXP_025, H13_SYN_025, H13_EXP_05, H13_SYN_05, H13_EXP_1, H13_SYN_1]
];
FRF_SETS.forEach((set, j) => {
  const gi = j + 1;
  set.forEach((arr, k) => series.push({
    name: FRF_NAMES[k], type: 'line', xAxisIndex: 2 * gi, yAxisIndex: 2 * gi, symbol: 'none', silent: true,
    lineStyle: FRF_STYLE[k], itemStyle: {color: FRF_STYLE[k].color},
    data: arr.map(p => [p[0], Math.pow(10, p[1])])
  }));
});

const hiddenSymbol = {opacity: 0, color: 'rgba(0,0,0,0)', borderColor: 'rgba(0,0,0,0)', borderWidth: 0};
const legend = [
  {data: Y3_NAMES, orient: 'vertical', left: 272, top: 162, itemWidth: 27, itemHeight: 14, itemGap: 4.5,
   padding: [4, 5, 3, 4], backgroundColor: '#fff', borderColor: AX, borderWidth: 1, borderRadius: 0,
   selectedMode: false, itemStyle: hiddenSymbol,
   textStyle: {fontSize: 16, fontFamily: FONT, color: '#000', lineHeight: 18}},
  {data: FRF_NAMES.map((n, k) => ({name: n, lineStyle: LEGEND_LINE[k], itemStyle: hiddenSymbol})),
   orient: 'horizontal', left: 197, top: 737, itemWidth: 16, itemHeight: 10, itemGap: 6,
   padding: [3, 5, 3, 4], backgroundColor: '#fff', borderColor: AX, borderWidth: 1, borderRadius: 0,
   selectedMode: false, itemStyle: hiddenSymbol,
   textStyle: {fontSize: 11, fontFamily: FONT, color: '#000'}}
];

const chart = echarts.init(document.getElementById('c'), null, {renderer: 'canvas'});
chart.setOption({animation: false, backgroundColor: '#fff', grid, xAxis, yAxis, legend, series});
</script></body></html>
